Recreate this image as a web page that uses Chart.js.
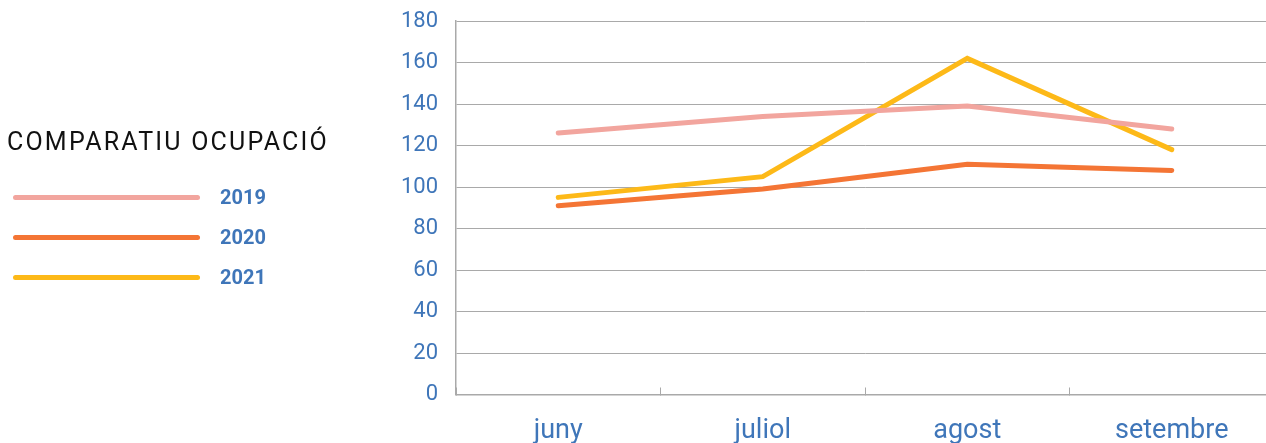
<!DOCTYPE html>
<html>
<head>
<meta charset="utf-8">
<script src="https://cdn.jsdelivr.net/npm/chart.js@4/dist/chart.umd.min.js"></script>
<style>
  html, body { margin: 0; padding: 0; background: #fff; overflow: hidden; width: 1266px; height: 443px; }
  #wrap { position: relative; width: 1266px; height: 443px; overflow: hidden; }
  #chartBox { position: absolute; left: 0; top: 0; width: 1280px; height: 443px; }
  #legend { position: absolute; left: 7px; top: 127px; font-family: Roboto, sans-serif; }
  #legend .title { font-weight: 400; font-size: 25px; letter-spacing: 2.2px; color: #111; line-height: 30px; white-space: nowrap; }
  #legend .item { position: absolute; left: 0; height: 20px; white-space: nowrap; }
  #legend .line { position: absolute; left: 6px; width: 187px; height: 5px; border-radius: 3px; }
  #legend .lbl { position: absolute; left: 213px; font-weight: 700; font-size: 20px; color: #3f76b9; line-height: 20px; }
</style>
</head>
<body>
<div id="wrap">
  <div id="chartBox"><canvas id="c" width="1280" height="443"></canvas></div>
  <div id="legend"><div class="title" id="legendTitle"></div></div>
</div>
<script>
const chartTitle = "COMPARATIU OCUPACIÓ";
const categories = ["juny", "juliol", "agost", "setembre"];
const seriesNames = ["2019", "2020", "2021"];
const values2019 = [126, 134, 139, 128];
const values2020 = [91, 99, 111, 108];
const values2021 = [95, 105, 162, 118];
const yTicks = [0, 20, 40, 60, 80, 100, 120, 140, 160, 180];

const seriesValues = [values2019, values2020, values2021];
const seriesColors = ["#f2a59e", "#f47535", "#fdb918"];

document.getElementById('legendTitle').textContent = chartTitle;
const legend = document.getElementById('legend');
seriesNames.forEach((name, i) => {
  const item = document.createElement('div');
  item.className = 'item';
  item.style.top = (60 + i * 40) + 'px';
  const ln = document.createElement('div');
  ln.className = 'line';
  ln.style.background = seriesColors[i];
  ln.style.top = '7.5px';
  const lb = document.createElement('div');
  lb.className = 'lbl';
  lb.textContent = name;
  lb.style.top = '0px';
  item.appendChild(ln); item.appendChild(lb);
  legend.appendChild(item);
});

const gridColor = '#a9a9a9';
const blue = '#3f76b9';

new Chart(document.getElementById('c'), {
  type: 'line',
  data: {
    labels: categories,
    datasets: seriesNames.map((name, i) => ({
      label: name,
      data: seriesValues[i],
      borderColor: seriesColors[i],
      backgroundColor: seriesColors[i],
      borderWidth: 5,
      pointRadius: 0,
      pointHoverRadius: 0,
      borderCapStyle: 'round',
      borderJoinStyle: 'miter',
      tension: 0,
      fill: false
    }))
  },
  options: {
    responsive: false,
    animation: false,
    events: [],
    layout: { padding: { left: 380, top: 21, right: 6, bottom: 0 } },
    plugins: { legend: { display: false }, tooltip: { enabled: false } },
    scales: {
      x: {
        type: 'category',
        offset: true,
        grid: { display: true, offset: true, drawOnChartArea: false, drawTicks: true, tickLength: -7, color: gridColor, lineWidth: 1 },
        border: { display: true, color: gridColor, width: 1.5 },
        ticks: { color: blue, font: { family: 'Roboto', size: 27 }, padding: 28, maxRotation: 0, autoSkip: false },
        afterFit: (s) => { s.height = 48.5; }
      },
      y: {
        min: 0, max: 180,
        afterBuildTicks: (s) => { s.ticks = yTicks.map(v => ({ value: v })); },
        grid: { color: gridColor, lineWidth: 1, drawTicks: false },
        border: { display: true, color: gridColor, width: 1.5 },
        ticks: { color: blue, font: { family: 'Roboto', size: 22 }, padding: 18 },
        afterFit: (s) => { s.width = 76; s.paddingTop = 0; s.paddingBottom = 0; }
      }
    }
  }
});
</script>
</body>
</html>
